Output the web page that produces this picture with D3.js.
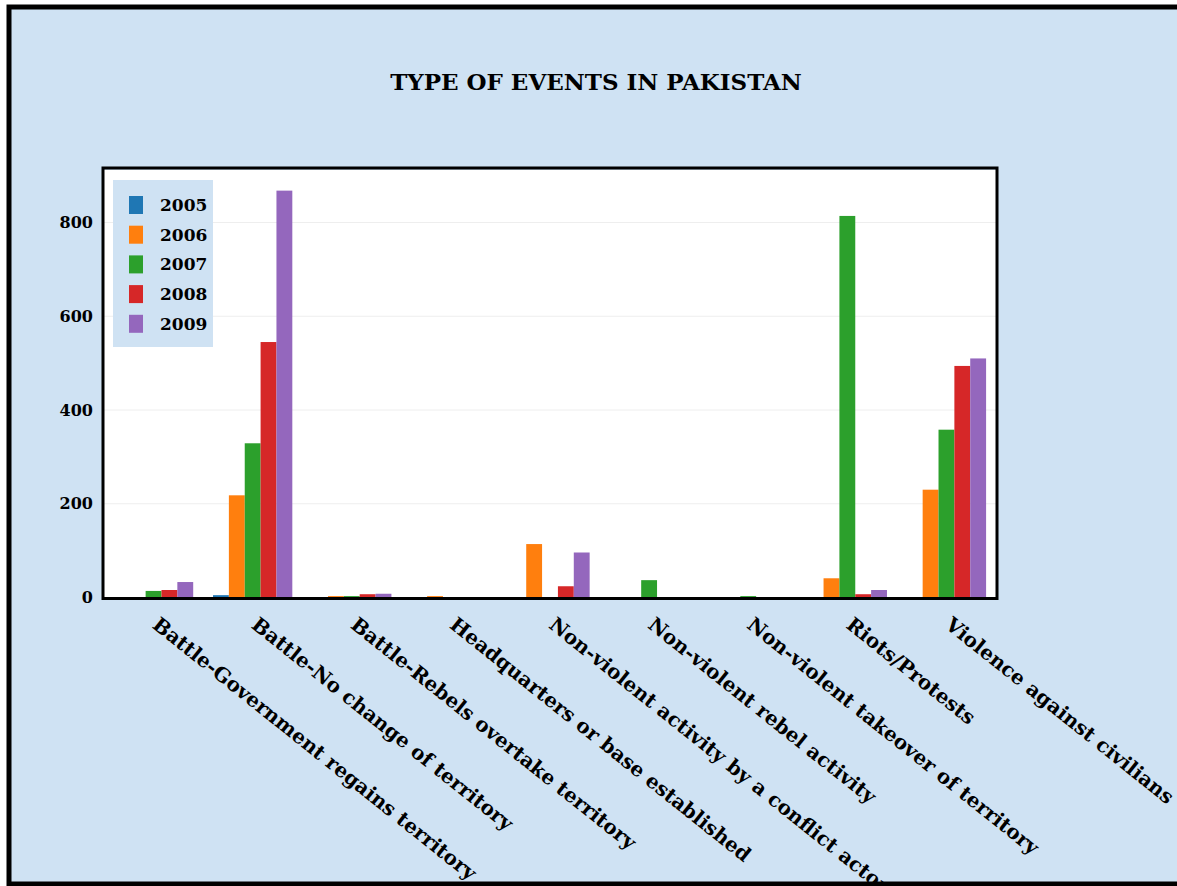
<!DOCTYPE html>
<html><head><meta charset="utf-8">
<script src="https://cdn.jsdelivr.net/npm/d3@7"></script>
<style>
html,body{margin:0;padding:0;background:#fff;}
svg{display:block;}
text{font-family:"DejaVu Serif",serif;font-weight:bold;fill:#000;}
</style></head>
<body>
<svg id="chart" width="1177" height="886"></svg>
<script>
const title = "TYPE OF EVENTS IN PAKISTAN";
const categories = [
  "Battle-Government regains territory",
  "Battle-No change of territory",
  "Battle-Rebels overtake territory",
  "Headquarters or base established",
  "Non-violent activity by a conflict actor",
  "Non-violent rebel activity",
  "Non-violent takeover of territory",
  "Riots/Protests",
  "Violence against civilians"
];
const years = ["2005","2006","2007","2008","2009"];
const colors = ["#1f77b4","#ff7f0e","#2ca02c","#d62728","#9467bd"];
const v2005 = [0, 5, 0, 0, 0, 0, 0, 0, 0];
const v2006 = [0, 218, 3, 3, 114, 0, 0, 41, 230];
const v2007 = [14, 329, 3, 0, 0, 37, 3, 814, 358];
const v2008 = [16, 545, 7, 0, 24, 0, 0, 7, 494];
const v2009 = [33, 868, 8, 0, 96, 0, 0, 16, 510];
const yTicks = [0, 200, 400, 600, 800];
const series = [v2005, v2006, v2007, v2008, v2009];

const svg = d3.select("#chart");
const bg = "#cfe2f3";
// outer frame
svg.append("rect").attr("x",9).attr("y",7).attr("width",1180).attr("height",877)
  .attr("fill",bg).attr("stroke","#000").attr("stroke-width",5);

const L=104, R=996, T=170, B=597.5;
const x = d3.scaleBand().domain(categories).range([L,R]).paddingInner(0.2).paddingOuter(0.1);
const xi = d3.scaleBand().domain(years).range([0, x.bandwidth()]);
const y = d3.scaleLinear().domain([0, 912]).range([B, T]);

// plot area
svg.append("rect").attr("x",L).attr("y",T).attr("width",R-L).attr("height",B-T).attr("fill","#fff");
// gridlines
svg.append("g").selectAll("line").data(yTicks.filter(d=>d>0)).join("line")
  .attr("x1",L).attr("x2",R).attr("y1",d=>y(d)).attr("y2",d=>y(d))
  .attr("stroke","#eeeeee").attr("stroke-width",1);

// bars
const gBars = svg.append("g");
years.forEach((yr,i)=>{
  gBars.append("g").selectAll("rect").data(series[i]).join("rect")
    .attr("x",(d,j)=>x(categories[j])+xi(yr))
    .attr("width",xi.bandwidth())
    .attr("y",d=>y(d))
    .attr("height",d=>B-y(d))
    .attr("fill",colors[i]);
});

// plot border
svg.append("rect").attr("x",L-1).attr("y",T-2).attr("width",R-L+2).attr("height",B-T+3)
  .attr("fill","none").attr("stroke","#000").attr("stroke-width",3);

// y axis labels
const yAxis = d3.axisLeft(y).tickValues(yTicks).tickSize(0).tickPadding(10);
const ga = svg.append("g").attr("transform",`translate(${L-1},0)`).call(yAxis);
ga.select(".domain").remove();
ga.selectAll("text").attr("font-size",16).attr("font-family",'"DejaVu Serif",serif').attr("font-weight","bold").attr("fill","#000");

// x labels
svg.append("g").selectAll("text").data(categories).join("text")
  .attr("transform",d=>`translate(${x(d)+x.bandwidth()/2+2},${B+24}) rotate(38.6)`)
  .attr("dy","0.35em")
  .attr("font-size",20)
  .text(d=>d);

// title
svg.append("text").attr("x",596).attr("y",90).attr("text-anchor","middle")
  .attr("font-size",23).text(title);

// legend
const lg = svg.append("g");
lg.append("rect").attr("x",113).attr("y",180).attr("width",100).attr("height",167).attr("fill",bg);
years.forEach((yr,i)=>{
  const cy = 205 + i*29.7;
  lg.append("rect").attr("x",129).attr("y",cy-9).attr("width",14).attr("height",18).attr("fill",colors[i]);
  lg.append("text").attr("x",160).attr("y",cy).attr("dy","0.35em").attr("font-size",17).text(yr);
});
</script>
</body></html>
